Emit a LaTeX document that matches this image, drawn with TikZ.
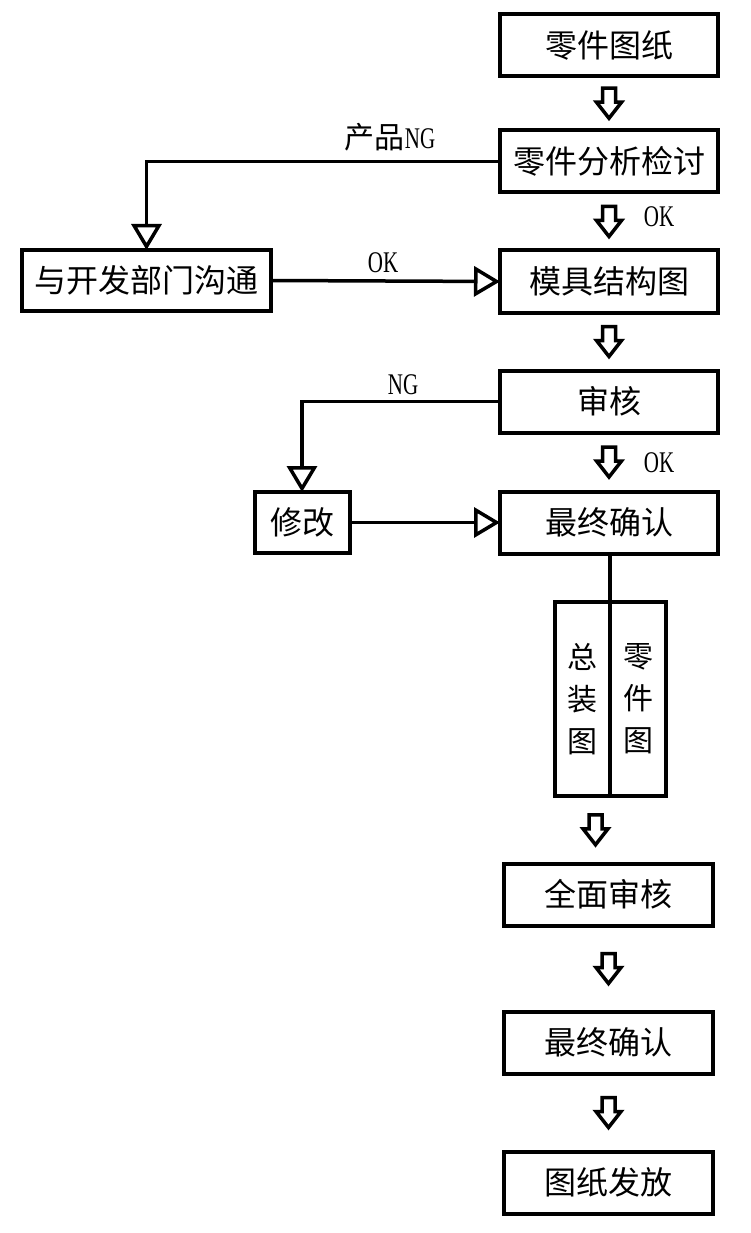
\documentclass[tikz,border=0pt]{standalone}
\usepackage{fontspec}
\newfontfamily\cjk{Noto Sans CJK SC}
\newfontfamily\lat[FakeStretch=0.7]{Liberation Serif}
\usetikzlibrary{arrows.meta,calc}
\begin{document}
\begin{tikzpicture}[x=1pt,y=-1pt,
  box/.style={draw,line width=4pt,minimum width=218pt,minimum height=62pt,inner sep=0pt,outer sep=0pt,font=\cjk\fontsize{32}{32}\selectfont},
  lbox/.style={box,minimum width=209pt},
  tallbox/.style={draw,line width=4pt,minimum height=194pt,inner sep=0pt,outer sep=0pt,align=center,font=\cjk\fontsize{30}{42}\selectfont},
  lbl/.style={inner sep=0pt,font=\lat\fontsize{30}{30}\selectfont},
  conn/.style={line width=3.5pt,-{Triangle[open,length=26pt,width=30pt,line width=3.5pt]}},
  plain/.style={line width=3.5pt},
  blk/.style={draw,line width=3.5pt,line join=miter}
]
\useasboundingbox (0,0) rectangle (750,1233);
\newcommand\blockarrow[2]{%
  \begin{scope}[shift={($(#1.south)!0.5!(#2.north)$)}]
    \draw[blk] (-6.5,-15) -- (6.5,-15) -- (6.5,-1) -- (12.5,-1) -- (0,15) -- (-12.5,-1) -- (-6.5,-1) -- cycle;
  \end{scope}}

\node[box] (b1) at (609,45) {零件图纸};
\node[box] (b2) at (609,161.5) {零件分析检讨};
\node[box] (b3) at (609,281.5) {模具结构图};
\node[box] (b4) at (609,401.5) {审核};
\node[box] (b5) at (609,522.5) {最终确认};
\node[box,minimum width=249pt,minimum height=61pt] (dev) at (146.5,280.5) {与开发部门沟通};
\node[box,minimum width=95pt,minimum height=61pt] (mod) at (302,522.5) {修改};
\node[tallbox,minimum width=55pt] (zl) at (582.5,699) {总\\装\\图};
\node[tallbox,minimum width=56pt] (zr) at (638,699) {零\\件\\图};
\node[lbox] (b6) at (608.5,894.5) {全面审核};
\node[lbox] (b7) at (608.5,1042.5) {最终确认};
\node[lbox] (b8) at (608.5,1182.5) {图纸发放};

\blockarrow{b1}{b2}
\blockarrow{b2}{b3}
\blockarrow{b3}{b4}
\blockarrow{b4}{b5}
\blockarrow{zl}{b6}
\blockarrow{b6}{b7}
\blockarrow{b7}{b8}

\node[lbl] (ok1) at (659,217) {OK};
\node[lbl] (ok2) at (659,463) {OK};

\draw[conn] (b2.west) -| (dev.north);
\node[lbl] (ng1) at (390,137) {{\cjk 产品}NG};
\draw[conn] (dev.east) -- (b3.west);
\node[lbl] (ok3) at (383,263) {OK};
\draw[conn] (b4.west) -| (mod.north);
\node[lbl] (ng2) at (403,385) {NG};
\draw[conn] (mod.east) -- (b5.west);
\draw[plain] (b5.south -| zl.north east) -- (zl.north east);
\end{tikzpicture}
\end{document}
